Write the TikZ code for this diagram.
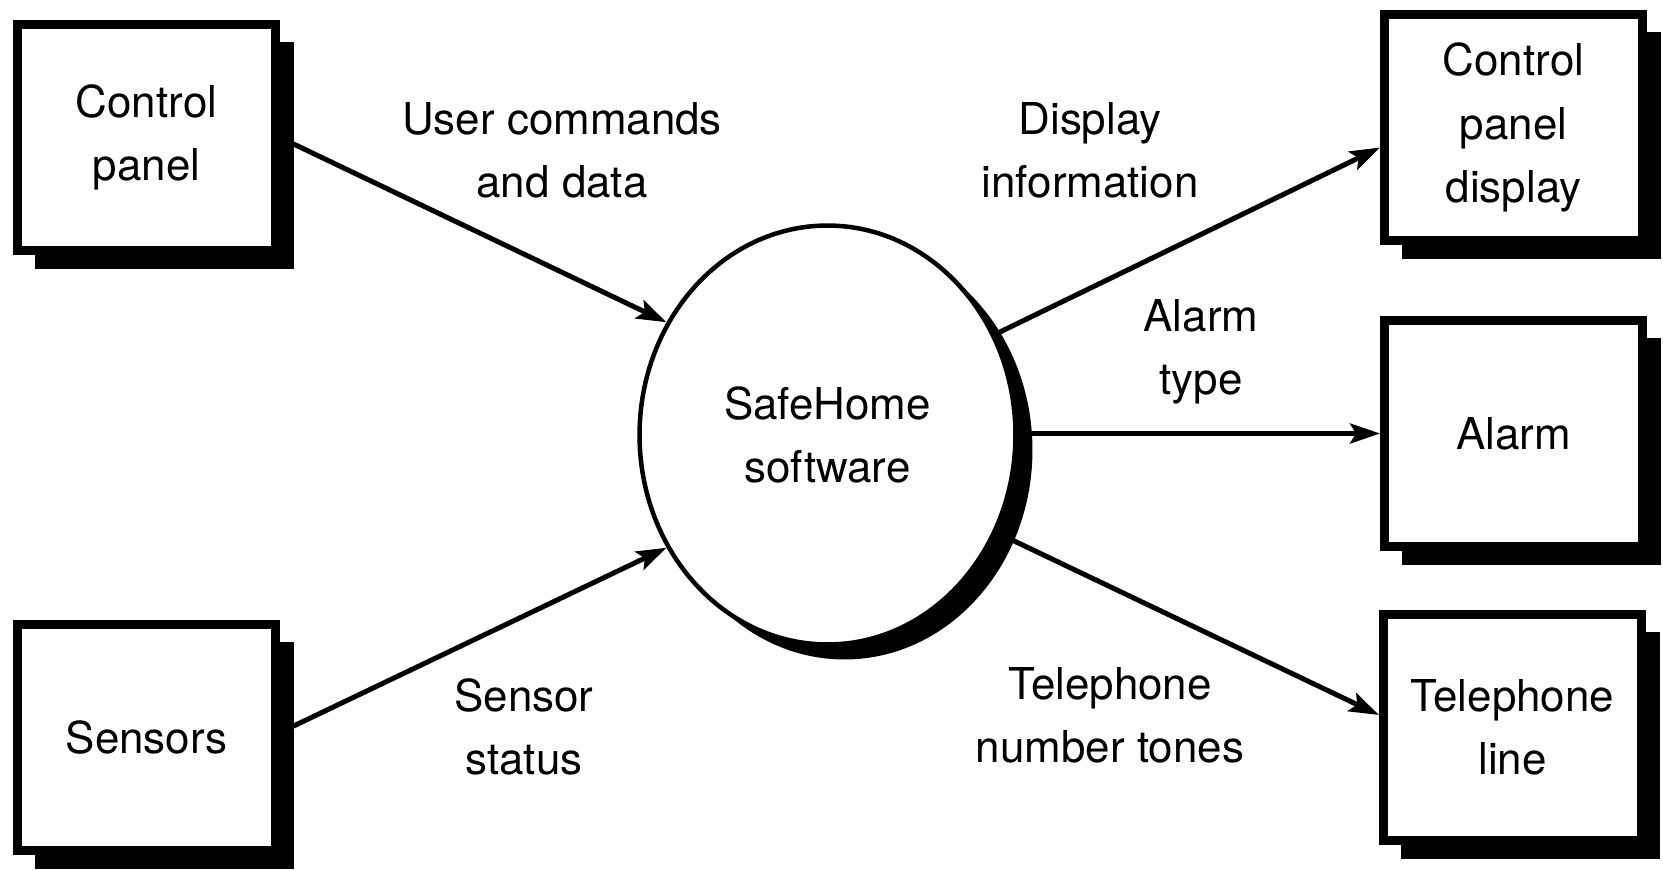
\documentclass[tikz,border=0pt]{standalone}
\usepackage{fontspec}
\setmainfont{TeX Gyre Heros}
\usetikzlibrary{arrows.meta, shapes.geometric, shadows}

\begin{document}
\begin{tikzpicture}[x=0.02cm, y=-0.02cm,
  every node/.style={font=\fontsize{25}{36}\selectfont, align=center},
  ext/.style={draw, line width=0.17cm, fill=white, minimum width=5.17cm, minimum height=4.53cm, inner sep=0pt,
    drop shadow={shadow xshift=0.36cm, shadow yshift=-0.36cm, fill=black, opacity=1}},
  proc/.style={ellipse, draw, line width=0.09cm, fill=white, minimum width=7.52cm, minimum height=8.38cm, inner sep=0pt,
    drop shadow={shadow xshift=0.34cm, shadow yshift=-0.3cm, fill=black, opacity=1}},
  flow/.style={-{Stealth[length=0.6cm, width=0.4cm, inset=0.12cm]}, line width=0.1cm}]
  \useasboundingbox (0,0) rectangle (1663,869);

  % external entities
  \node[ext] (cp) at (146.5,137.5) {Control\\panel};
  \node[ext] (sn) at (146.5,737.5) {Sensors};
  \node[ext] (cpd) at (1513.5,127.5) {Control\\panel\\display};
  \node[ext] (al) at (1513.5,433.5) {Alarm};
  \node[ext] (tel) at (1512.5,727.5) {Telephone\\line};

  % the system
  \node[proc] (sw) at (827.5,435) {SafeHome\\software};

  % flows
  \draw[flow] (cp.east) -- (sw.145);
  \draw[flow] ([yshift=0.1cm]sn.east) -- (sw.215);
  \draw[flow] (sw.31) -- ([yshift=-0.4cm]cpd.west);
  \draw[flow] (sw.east |- al.west) -- (al.west);
  \draw[flow] (sw.-30) -- ([yshift=0.25cm]tel.west);

  % flow labels
  \node (ucd) at (562,150) {User commands\\and data};
  \node (dsi) at (1090,150) {Display\\information};
  \node (alt) at (1201,352) {Alarm\\type};
  \node (sst) at (524,727) {Sensor\\status};
  \node (tnt) at (1110,715) {Telephone\\number tones};
\end{tikzpicture}
\end{document}
